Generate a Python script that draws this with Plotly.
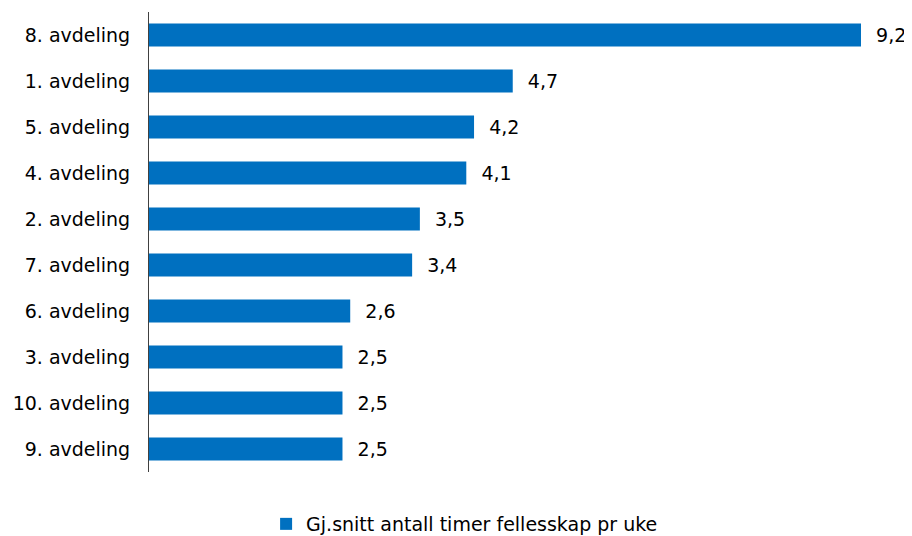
import plotly.graph_objects as go

categories = ["8. avdeling", "1. avdeling", "5. avdeling", "4. avdeling", "2. avdeling",
              "7. avdeling", "6. avdeling", "3. avdeling", "10. avdeling", "9. avdeling"]
values = [9.2, 4.7, 4.2, 4.1, 3.5, 3.4, 2.6, 2.5, 2.5, 2.5]
series_name = "Gj.snitt antall timer fellesskap pr uke"
labels = ["\u00a0\u00a0" + f"{v:.1f}".replace(".", ",") for v in values]

FONT = "DejaVu Sans, sans-serif"
FS = 19

fig = go.Figure()
fig.add_trace(go.Bar(
    y=categories, x=values, orientation="h",
    name=series_name,
    marker=dict(color="#0070C0", line=dict(width=0)),
    text=labels, textposition="outside", cliponaxis=False,
    textfont=dict(size=FS, color="#000000", family=FONT),
    showlegend=True,
))

# page has an 8px body margin; margins compensate so plot area sits at x 149..861, y 12..472
fig.update_layout(
    width=912, height=536,
    margin=dict(l=141, r=59, t=4, b=72, autoexpand=False),
    paper_bgcolor="white", plot_bgcolor="white",
    font=dict(family=FONT, size=FS, color="#000000"),
    bargap=0.5,
    xaxis=dict(range=[0, 9.2], showgrid=False, showticklabels=False, zeroline=False,
               showline=False, fixedrange=True, automargin=False),
    yaxis=dict(autorange="reversed", showline=True, linecolor="#404040", linewidth=1,
               showgrid=False, ticks="", ticklabelstandoff=14, automargin=False,
               tickfont=dict(size=FS, color="#000000", family=FONT)),
    legend=dict(orientation="h", xref="container", yref="container",
                x=0.283, xanchor="left", y=0.0373, yanchor="middle",
                font=dict(size=FS, color="#000000", family=FONT), itemwidth=30),
)

fig.write_html("out.html")
